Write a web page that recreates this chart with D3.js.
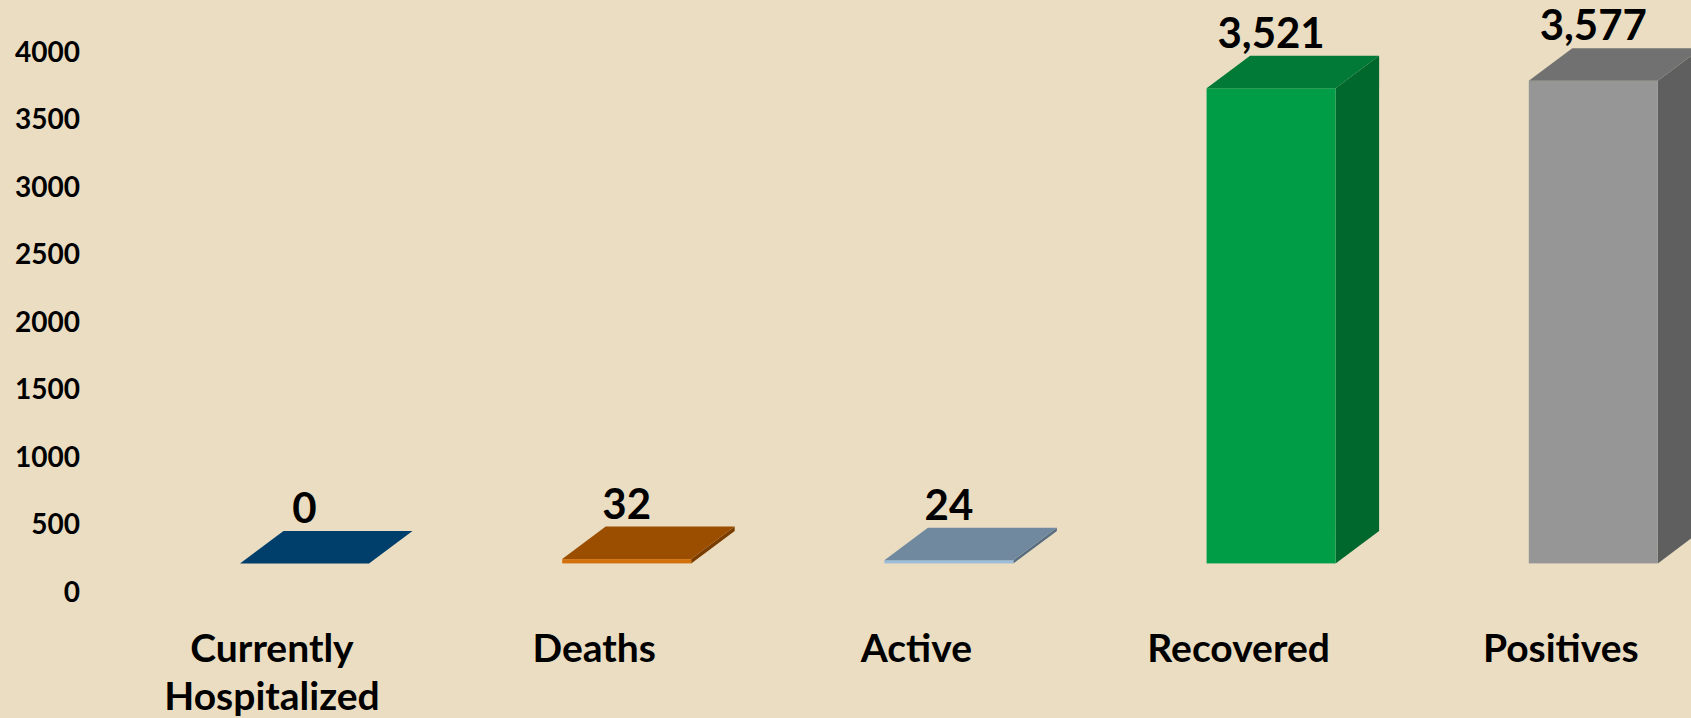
<!DOCTYPE html>
<html>
<head>
<meta charset="utf-8">
<script src="https://cdn.jsdelivr.net/npm/d3@7"></script>
<style>
  html, body { margin: 0; padding: 0; background: #EADDC2; }
  svg { display: block; }
  text { font-family: Lato, "Open Sans", sans-serif; font-weight: 700; fill: #000; }
</style>
</head>
<body>
<svg id="chart" width="1691" height="718"></svg>
<script>
// ---- data ----
const categories = ["Currently Hospitalized", "Deaths", "Active", "Recovered", "Positives"];
const categoryLines = [["Currently", "Hospitalized"], ["Deaths"], ["Active"], ["Recovered"], ["Positives"]];
const values = [0, 32, 24, 3521, 3577];
const tickValues = [0, 500, 1000, 1500, 2000, 2500, 3000, 3500, 4000];
const frontColors = ["#003F6B", "#D2700C", "#9DBCD9", "#009C46", "#969696"];
const topColors   = ["#003F6B", "#9C4E00", "#71899E", "#007A36", "#717171"];
const sideColors  = ["#002E50", "#7A3D00", "#586D80", "#00682D", "#5F5F5F"];

// ---- layout ----
const W = 1691, H = 718;
const svg = d3.select("#chart");
svg.append("rect").attr("width", W).attr("height", H).attr("fill", "#EADDC2");

const y = d3.scaleLinear().domain([0, 4000]).range([591, 51.2]);
const x = d3.scalePoint().domain(categories).range([272, 1560.8]);

const floorShift = 27.6;   // front face floor sits above the axis zero label
const barW = 129;
const frontOffset = -32;   // front face left edge relative to category center
const dx = 43.5, dy = -32.5; // depth of the 3D bars

// ---- y axis ----
const yAxis = d3.axisLeft(y).tickValues(tickValues).tickSize(0).tickPadding(0)
  .tickFormat(d3.format("d"));
const gy = svg.append("g").attr("transform", "translate(80,0)").call(yAxis);
gy.select(".domain").remove();
gy.selectAll("text")
  .attr("font-family", "Lato, 'Open Sans', sans-serif")
  .attr("font-weight", 700)
  .attr("font-size", 28)
  .attr("fill", "#000")
  .attr("dy", "0.36em");

// ---- bars ----
const bars = svg.append("g");
categories.forEach((c, i) => {
  const v = values[i];
  const x0 = x(c) + frontOffset;
  const x1 = x0 + barW;
  const yb = y(0) - floorShift;
  const yt = y(v) - floorShift;
  const g = bars.append("g");
  // right side
  g.append("path")
    .attr("d", `M${x1},${yt}L${x1 + dx},${yt + dy}L${x1 + dx},${yb + dy}L${x1},${yb}Z`)
    .attr("fill", sideColors[i]);
  // front
  if (yb - yt > 0.01) {
    g.append("rect").attr("x", x0).attr("y", yt).attr("width", barW).attr("height", yb - yt)
      .attr("fill", frontColors[i]);
  }
  // top
  g.append("path")
    .attr("d", `M${x0},${yt}L${x0 + dx},${yt + dy}L${x1 + dx},${yt + dy}L${x1},${yt}Z`)
    .attr("fill", topColors[i]);
  // value label
  svg.append("text")
    .attr("x", x0 + barW / 2)
    .attr("y", yt + dy - 8)
    .attr("text-anchor", "middle")
    .attr("font-size", 42)
    .text(d3.format(",")(v));
});

// ---- category labels ----
categories.forEach((c, i) => {
  const t = svg.append("text")
    .attr("text-anchor", "middle")
    .attr("font-size", 39);
  categoryLines[i].forEach((line, j) => {
    t.append("tspan").attr("x", x(c)).attr("y", 662 + j * 48).text(line);
  });
});
</script>
</body>
</html>
